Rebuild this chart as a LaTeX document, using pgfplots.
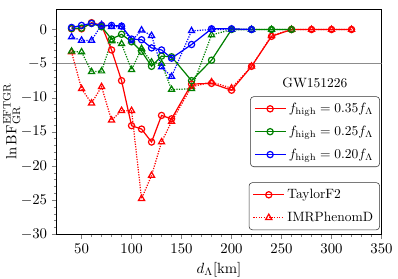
\documentclass[border=0pt]{standalone}
\usepackage{pgfplots}
\pgfplotsset{compat=1.18}
\definecolor{mplgreen}{rgb}{0,0.5,0}
\pgfplotsset{
  longlegend/.style={legend image code/.code={
    \draw[mark repeat=2,mark phase=2,##1] plot coordinates {(0cm,0cm) (0.4cm,0cm) (0.8cm,0cm)};}},
}
\begin{document}
\begin{tikzpicture}
\useasboundingbox (-41.9pt,-32.6pt) rectangle (252.9pt,173.4pt);
\begin{axis}[
  at={(0,0)}, anchor=south west,
  scale only axis, width=240.7pt, height=166.7pt,
  xmin=25, xmax=350, ymin=-30, ymax=3,
  xtick={50,100,...,350}, ytick={-30,-25,...,0},
  minor x tick num=4, minor y tick num=4,
  tick pos=left, tick align=outside,
  major tick length=3.5pt, minor tick length=2pt,
  tick label style={font=\fontsize{11}{13}\selectfont},
  label style={font=\fontsize{11}{13}\selectfont},
  xlabel={$d_\Lambda[\mathrm{km}]$},
  ylabel={$\ln \mathrm{BF}^{\mathrm{EFTGR}}_{\mathrm{GR}}$},
  ylabel style={at={(axis description cs:-0.138,0.5)}, anchor=center},
  legend cell align=left,
  legend style={at={(0.995,0.612)}, anchor=north east, draw=black!80, rounded corners=2.5pt,
    font=\fontsize{10}{12}\selectfont, row sep=4.5pt, inner sep=2.8pt},
  longlegend,
  every axis plot/.append style={line width=0.9pt},
]
\addplot[black!45, line width=0.9pt, forget plot] coordinates {(25,-5)(350,-5)};
% IMRPhenomD (dotted, triangles)
\addplot[red, densely dotted, mark=triangle, mark size=2.6pt, mark options={solid}, forget plot] coordinates {
(40,-3.3)(50,-8.7)(60,-10.8)(70,-8.4)(80,-13.3)(90,-11.9)(100,-11.9)(110,-24.8)(120,-21.4)(130,-16.5)(140,-13.5)(160,-8.4)(180,-7.7)(200,-8.6)(220,-5.4)(240,-0.9)(260,0)(280,0)(300,0)(320,0)};
\addplot[mplgreen, densely dotted, mark=triangle, mark size=2.6pt, mark options={solid}, forget plot] coordinates {
(40,-3.2)(50,-3.3)(60,-6.2)(70,-6.1)(80,-1.7)(90,-2.1)(100,-5.9)(110,-2.8)(120,-4.8)(130,-5.0)(140,-8.8)(160,-8.7)(180,-0.8)(200,0)(220,0)(240,0)(260,0)};
\addplot[blue, densely dotted, mark=triangle, mark size=2.6pt, mark options={solid}, forget plot] coordinates {
(40,-1.1)(50,-1.6)(60,-1.6)(70,0.7)(80,0.4)(90,0.4)(100,-1.7)(110,-0.1)(120,-0.9)(130,-5.5)(140,-6.9)(160,-0.2)(180,0)(200,0)(220,0)};
% TaylorF2 (solid, circles)
\addplot[red, solid, mark=o, mark size=2.3pt, forget plot] coordinates {
(40,0.1)(50,0.1)(60,1.0)(70,0.6)(80,-3.0)(90,-7.5)(100,-14.1)(110,-14.6)(120,-16.5)(130,-12.6)(140,-13.1)(160,-8.0)(180,-7.9)(200,-8.9)(220,-5.4)(240,-1.0)(260,0)(280,0)(300,0)(320,0)};
\addplot[mplgreen, solid, mark=o, mark size=2.3pt, forget plot] coordinates {
(40,0.15)(50,0.2)(60,0.9)(70,0.4)(80,-1.4)(90,-0.7)(100,-1.8)(110,-3.2)(120,-5.4)(130,-3.9)(140,-4.0)(160,-7.5)(180,-4.5)(200,0)(220,0)(240,0)(260,0)};
\addplot[blue, solid, mark=o, mark size=2.3pt, forget plot] coordinates {
(40,0.3)(50,0.6)(60,0.9)(70,0.6)(80,0.6)(90,0.5)(100,-1.4)(110,-1.5)(120,-2.7)(130,-3.0)(140,-4.2)(160,-2.2)(180,0.1)(200,0.1)(220,0)};
\addlegendimage{red, solid, line width=0.9pt, mark=o, mark size=2.3pt}
\addlegendentry{$f_{\mathrm{high}}=0.35f_\Lambda$}
\addlegendimage{mplgreen, solid, line width=0.9pt, mark=o, mark size=2.3pt}
\addlegendentry{$f_{\mathrm{high}}=0.25f_\Lambda$}
\addlegendimage{blue, solid, line width=0.9pt, mark=o, mark size=2.3pt}
\addlegendentry{$f_{\mathrm{high}}=0.20f_\Lambda$}
\node[font=\fontsize{10}{12}\selectfont] at (rel axis cs:0.795,0.67) {GW151226};
\end{axis}
\begin{axis}[
  at={(0,0)}, anchor=south west,
  scale only axis, width=240.7pt, height=166.7pt,
  xmin=25, xmax=350, ymin=-30, ymax=3,
  hide axis,
  legend cell align=left,
  legend style={at={(0.995,0.23)}, anchor=north east, draw=black!80, rounded corners=2.5pt,
    font=\fontsize{10}{12}\selectfont, row sep=4.5pt, inner sep=2.8pt},
  longlegend,
]
\addlegendimage{red, solid, line width=0.9pt, mark=o, mark size=2.3pt}
\addlegendentry{TaylorF2}
\addlegendimage{red, densely dotted, line width=0.9pt, mark=triangle, mark size=2.6pt, mark options={solid}}
\addlegendentry{IMRPhenomD}
\end{axis}
\end{tikzpicture}
\end{document}
